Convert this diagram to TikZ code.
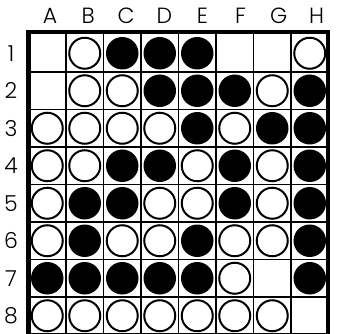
\documentclass[tikz,border=0pt]{standalone}
\usepackage{fontspec}
\setmainfont{Poppins}[UprightFont=* Light]
\usetikzlibrary{positioning}

\begin{document}
\begin{tikzpicture}[
  x=1pt, y=-1pt,
  every node/.style={font=\fontsize{22}{22}\selectfont},
  stone/.style={circle, inner sep=0pt},
  wstone/.style={stone, draw=black, fill=white, line width=2pt, minimum size=31pt},
  bstone/.style={stone, fill=black, minimum size=32.5pt},
  gridline/.style={line width=1.3pt},
  boardframe/.style={line width=4.5pt},
]
  \useasboundingbox (0,0) rectangle (340,334);
  \clip (0,0) rectangle (340,334);

  % Board: grid and frame
  \foreach \i in {1,...,7} {
    \draw[gridline] (28.5+37.5*\i, 34.5) -- (28.5+37.5*\i, 336);
    \draw[gridline] (28.5, 34.5+37.5*\i) -- (328, 34.5+37.5*\i);
  }
  \draw[boardframe] (28.25,32.25) rectangle (327.75,335.5);

  % Column and row labels
  \foreach \l [count=\i from 0] in {A,B,C,D,E,F,G,H}
    \node (col\l) at (50+38.1*\i, 16) {\l};
  \foreach \r in {1,...,8}
    \node (row\r) at (11, 53.25+37.5*\r-37.5) {\r};

  % White stones (column/row)
  \foreach \c/\r in {2/1, 8/1,
                     2/2, 3/2, 7/2,
                     1/3, 2/3, 3/3, 4/3, 6/3,
                     1/4, 2/4, 5/4, 7/4,
                     1/5, 4/5, 5/5, 7/5,
                     1/6, 3/6, 4/6, 6/6, 7/6,
                     6/7,
                     1/8, 2/8, 3/8, 4/8, 5/8, 6/8, 7/8}
    \node[wstone] (w\c\r) at (47.25+37.5*\c-37.5, 53.25+37.5*\r-37.5) {};

  % Black stones (column/row)
  \foreach \c/\r in {3/1, 4/1, 5/1,
                     4/2, 5/2, 6/2, 8/2,
                     5/3, 7/3, 8/3,
                     3/4, 4/4, 6/4, 8/4,
                     2/5, 3/5, 6/5, 8/5,
                     2/6, 5/6, 8/6,
                     1/7, 2/7, 3/7, 4/7, 5/7, 8/7}
    \node[bstone] (b\c\r) at (47.25+37.5*\c-37.5, 53.25+37.5*\r-37.5) {};
\end{tikzpicture}
\end{document}
